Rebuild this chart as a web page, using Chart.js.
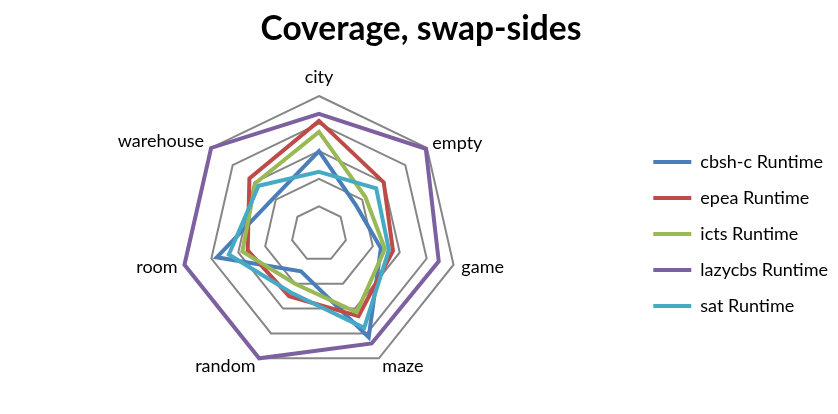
<!DOCTYPE html>
<html>
<head>
<meta charset="utf-8">
<script src="https://cdn.jsdelivr.net/npm/chart.js@4"></script>
<style>
html,body{margin:0;padding:0;background:#fff;}
canvas{display:block;}
</style>
</head>
<body>
<canvas id="c" width="838" height="414"></canvas>
<script>
const categories = ['city', 'empty', 'game', 'maze', 'random', 'room', 'warehouse'];
const seriesNames = ['cbsh-c Runtime', 'epea Runtime', 'icts Runtime', 'lazycbs Runtime', 'sat Runtime'];
const cbshc = [0.60, 0.34, 0.46, 0.83, 0.30, 0.76, 0.42];
const epea = [0.82, 0.60, 0.55, 0.66, 0.50, 0.53, 0.645];
const icts = [0.74, 0.43, 0.49, 0.63, 0.40, 0.57, 0.59];
const lazycbs = [0.87, 0.99, 0.89, 0.88, 1.0, 1.0, 1.0];
const sat = [0.45, 0.53, 0.52, 0.755, 0.47, 0.67, 0.56];
const scaleMin = 0, scaleMax = 1, scaleStep = 0.2;

const colors = ['#4A7EBB', '#BE4B48', '#98B954', '#7D60A0', '#46AAC5'];
const values = [cbshc, epea, icts, lazycbs, sat];
const labelPadding = [18, 7, 8, 8, 8, 7, 9];

const datasets = values.map((v, i) => ({
  label: seriesNames[i],
  data: v,
  borderColor: colors[i],
  backgroundColor: colors[i],
  borderWidth: 4,
  borderCapStyle: 'round',
  borderJoinStyle: 'miter',
  pointRadius: 0,
  pointHoverRadius: 0,
  fill: false,
  order: values.length - i
}));

new Chart(document.getElementById('c'), {
  type: 'radar',
  data: { labels: categories, datasets },
  options: {
    responsive: false,
    animation: false,
    layout: { padding: { left: 4, right: 0, top: 0, bottom: 30 } },
    plugins: {
      title: {
        display: true,
        text: 'Coverage, swap-sides',
        color: '#000',
        font: { family: 'Lato', size: 33.5, weight: 'bold', lineHeight: 1.2 },
        padding: { top: 9, bottom: 18 }
      },
      legend: {
        position: 'right',
        align: 'start',
        title: { display: true, text: '', font: { size: 10, lineHeight: 1 }, padding: { top: 0, bottom: 125 } },
        labels: {
          sort: (a, b) => a.datasetIndex - b.datasetIndex,
          usePointStyle: true,
          pointStyle: 'line',
          pointStyleWidth: 38,
          color: '#000',
          padding: 18,
          font: { family: 'Lato', size: 18 }
        }
      },
      tooltip: { enabled: false }
    },
    scales: {
      r: {
        min: scaleMin,
        max: scaleMax,
        ticks: { stepSize: scaleStep, display: false },
        angleLines: { display: false },
        grid: { color: '#868686', lineWidth: 2 },
        pointLabels: {
          color: '#000',
          padding: (ctx) => labelPadding[ctx.index],
          font: { family: 'Lato', size: 18, lineHeight: 0.1 }
        }
      }
    }
  }
});
</script>
</body>
</html>
